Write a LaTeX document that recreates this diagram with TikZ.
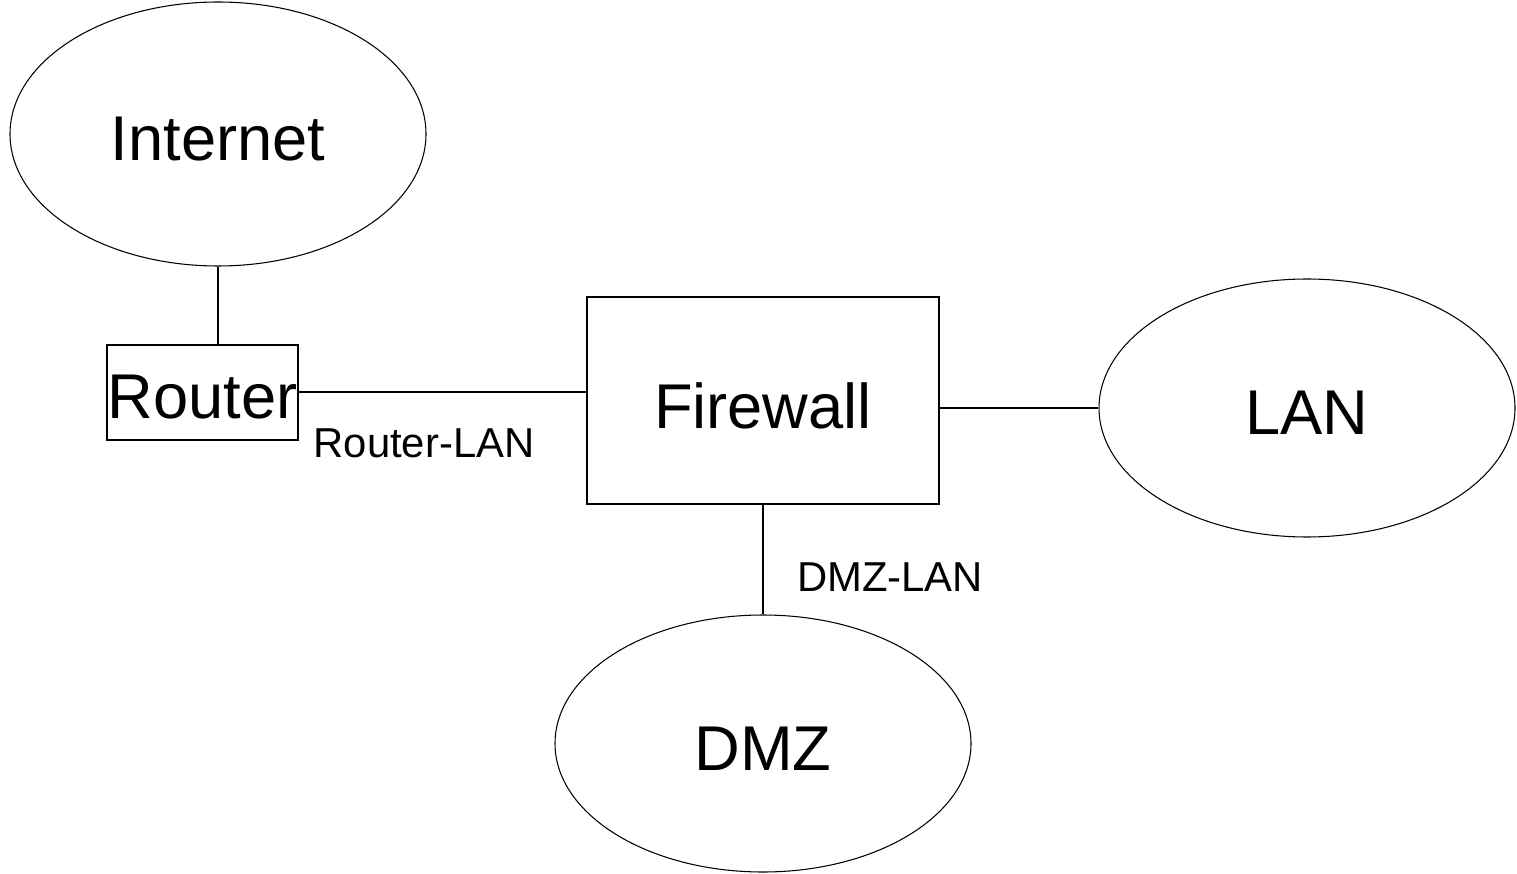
\documentclass[tikz,border=0pt]{standalone}
\usepackage{fontspec}
\setmainfont{Liberation Sans}
\usetikzlibrary{shapes.geometric}
\newcommand{\lowtext}[1]{\raisebox{-0.1cm}[\height][\depth]{#1}}
\begin{document}
\begin{tikzpicture}[x=0.02cm,y=-0.02cm,
  cloud/.style={draw,ellipse,minimum width=416*0.02cm,minimum height=260*0.02cm,inner sep=0pt,line width=0.6pt},
  box/.style={draw,rectangle,inner sep=0pt,line width=0.6pt},
  big/.style={font=\fontsize{36}{38}\selectfont},
  small/.style={font=\fontsize{23.8}{26}\selectfont},
  link/.style={line width=0.6pt}]
\useasboundingbox (0,0) rectangle (1517,874);
\node[cloud,minimum height=264*0.02cm,big] (internet) at (218,134) {\lowtext{Internet}};
\node[box,minimum width=191*0.02cm,minimum height=95*0.02cm,big] (router) at (202.5,392.5) {\lowtext{Router}};
\node[box,minimum width=352*0.02cm,minimum height=207*0.02cm,big] (firewall) at (763,400.5) {\lowtext{Firewall}};
\node[cloud,minimum height=258*0.02cm,big] (lan) at (1307,408) {\lowtext{LAN}};
\node[cloud,minimum height=257*0.02cm,big] (dmz) at (763,743.5) {\lowtext{DMZ}};
\coordinate (fwr) at (firewall.east |- 0,408);
\coordinate (rtr) at (router.east |- 0,392);
\draw[link] (internet.south) -- (router.north -| internet.south);
\draw[link] (rtr) -- (firewall.west |- rtr);
\draw[link] (fwr) -- (lan.west |- fwr);
\draw[link] (firewall.south) -- (dmz.north);
\node[small] (rlan) at (424,443) {Router-LAN};
\node[small] (dlan) at (890,577) {DMZ-LAN};
\end{tikzpicture}
\end{document}
